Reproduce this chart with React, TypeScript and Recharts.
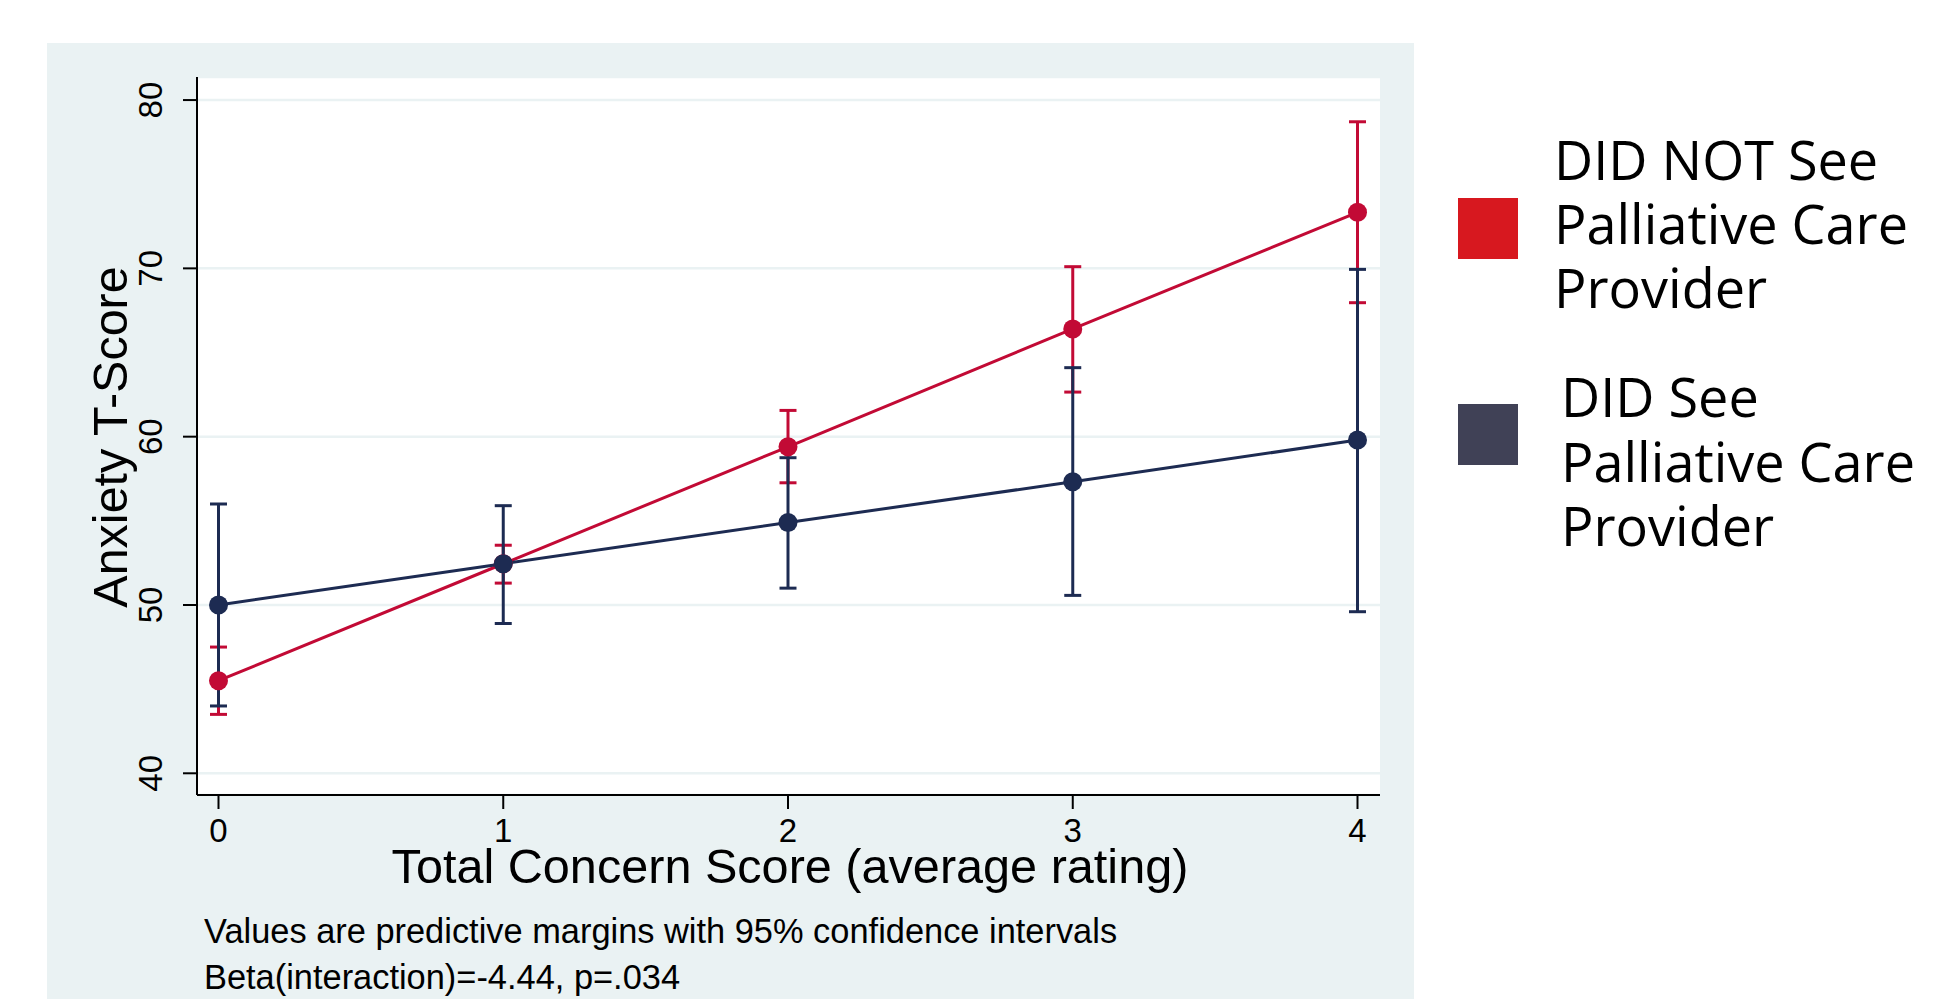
import { ComposedChart, Line, XAxis, YAxis, CartesianGrid, ErrorBar } from 'recharts';

// predictive margins of anxiety T-score by total concern score
const concern = [0, 1, 2, 3, 4];
const notSeenMean = [45.5, 52.45, 59.4, 66.4, 73.33];
const notSeenLow = [43.5, 51.3, 57.26, 62.65, 67.96];
const notSeenHigh = [47.5, 53.55, 61.56, 70.1, 78.71];
const seenMean = [50.0, 52.45, 54.9, 57.32, 59.8];
const seenLow = [44.0, 48.9, 51.0, 50.57, 49.6];
const seenHigh = [56.0, 55.9, 58.75, 64.1, 69.94];

const xTicks = [0, 1, 2, 3, 4];
const yTicks = [40, 50, 60, 70, 80];

const xTitle = 'Total Concern Score (average rating)';
const yTitle = 'Anxiety T-Score';
const legendLines = [
  ['DID NOT See', 'Palliative Care', 'Provider'],
  ['DID See', 'Palliative Care', 'Provider'],
];
const footnotes = [
  'Values are predictive margins with 95% confidence intervals',
  'Beta(interaction)=-4.44, p=.034',
];

const RED = '#C20A35';
const NAVY = '#1D2B52';
const LEGEND_COLORS = ['#D7181F', '#404156'];
const PANEL = '#EAF2F3';
const FONT = '"Liberation Sans", Arial, sans-serif';

const data = concern.map((x, i) => ({
  x,
  notSeen: notSeenMean[i],
  notSeenErr: [notSeenMean[i] - notSeenLow[i], notSeenHigh[i] - notSeenMean[i]],
  seen: seenMean[i],
  seenErr: [seenMean[i] - seenLow[i], seenHigh[i] - seenMean[i]],
}));

const YTick = (props: any) => {
  const { x, y, payload } = props;
  const bx = x - 21;
  return (
    <text x={bx} y={y} transform={`rotate(-90 ${bx} ${y})`} textAnchor="middle"
      fontSize={33} fill="#000" fontFamily={FONT}>
      {payload.value}
    </text>
  );
};

// legend text blocks: left x, first baseline, line step
const legendText = [
  { x: 1554, y: 180, step: 63.8, box: 198 },
  { x: 1561, y: 417, step: 64.5, box: 404 },
];

export default function App() {
  return (
    <div style={{ position: 'absolute', left: 0, top: 0, width: 1936, height: 999, overflow: 'hidden', background: '#fff' }}>
      <div style={{ position: 'absolute', left: 47, top: 43, width: 1367, height: 956, background: PANEL }} />
      <div style={{ position: 'absolute', left: 0, top: 0 }}>
        <ComposedChart width={1936} height={999} data={data}
          margin={{ top: 77, right: 556, bottom: 0, left: 0 }}>
          <CartesianGrid vertical={false} fill="#fff" stroke={PANEL} strokeWidth={2.5} />
          <XAxis dataKey="x" type="number" domain={[-0.0755, 4.079]} ticks={xTicks}
            allowDataOverflow height={204} tickSize={14} tickMargin={10} interval={0}
            axisLine={{ stroke: '#000', strokeWidth: 2 }} tickLine={{ stroke: '#000', strokeWidth: 2 }}
            tick={{ fontSize: 33, fill: '#000', fontFamily: FONT }} />
          <YAxis type="number" domain={[38.71, 81.37]} ticks={yTicks} allowDataOverflow
            width={197} tickSize={14} tickMargin={0} interval={0}
            axisLine={{ stroke: '#000', strokeWidth: 2 }} tickLine={{ stroke: '#000', strokeWidth: 2 }}
            tick={<YTick />} />
          <Line dataKey="notSeen" stroke="none" dot={false} activeDot={false} legendType="none" isAnimationActive={false}>
            <ErrorBar dataKey="notSeenErr" direction="y" width={8.5} strokeWidth={3} stroke={RED} />
          </Line>
          <Line dataKey="seen" stroke="none" dot={false} activeDot={false} legendType="none" isAnimationActive={false}>
            <ErrorBar dataKey="seenErr" direction="y" width={8.5} strokeWidth={3} stroke={NAVY} />
          </Line>
          <Line dataKey="notSeen" type="linear" stroke={RED} strokeWidth={3}
            dot={{ r: 9.5, fill: RED, stroke: RED, strokeWidth: 0 }} activeDot={false} isAnimationActive={false} />
          <Line dataKey="seen" type="linear" stroke={NAVY} strokeWidth={3}
            dot={{ r: 9.5, fill: NAVY, stroke: NAVY, strokeWidth: 0 }} activeDot={false} isAnimationActive={false} />
        </ComposedChart>
      </div>
      <svg width={1936} height={999} style={{ position: 'absolute', left: 0, top: 0, pointerEvents: 'none' }}>
        <text x={127} y={437} transform="rotate(-90 127 437)" textAnchor="middle" fontSize={48.5} fontFamily={FONT} fill="#000">
          {yTitle}
        </text>
        <text x={790} y={883} textAnchor="middle" fontSize={48.6} fontFamily={FONT} fill="#000">{xTitle}</text>
        {footnotes.map((t, i) => (
          <text key={t} x={204} y={943 + i * 46} fontSize={34.4} fontFamily={FONT} fill="#000">{t}</text>
        ))}
        {legendLines.map((lines, i) => (
          <g key={i}>
            <rect x={1458} y={legendText[i].box} width={60} height={61} fill={LEGEND_COLORS[i]} />
            {lines.map((l, j) => (
              <text key={j} x={legendText[i].x} y={legendText[i].y + j * legendText[i].step}
                fontSize={54} fontFamily='"Open Sans", sans-serif' fill="#000">{l}</text>
            ))}
          </g>
        ))}
      </svg>
    </div>
  );
}
